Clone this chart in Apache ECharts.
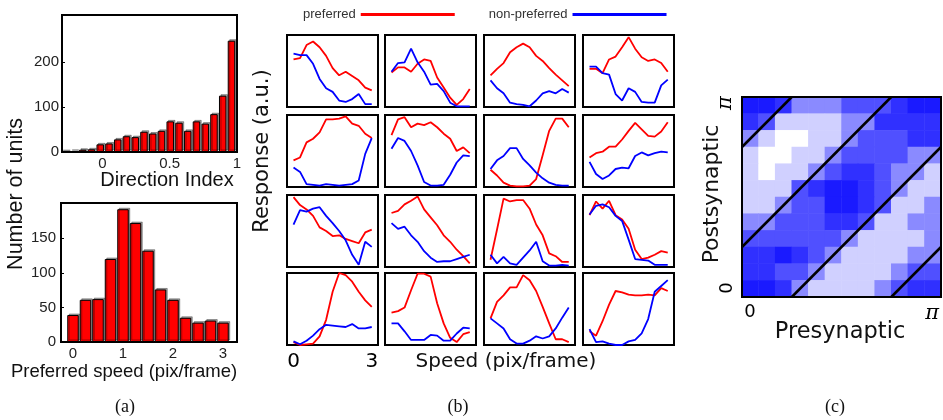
<!DOCTYPE html>
<html>
<head>
<meta charset="utf-8">
<script src="https://cdn.jsdelivr.net/npm/echarts@6/dist/echarts.min.js"></script>
<style>
  html, body { margin: 0; padding: 0; background: #fff; }
  #main { width: 943px; height: 420px; }
</style>
</head>
<body>
<div id="main"></div>
<script>
// (a) top: direction index histogram
var dirBins = [-0.276, -0.211, -0.146, -0.081, -0.016, 0.049, 0.114, 0.179, 0.244, 0.309,
  0.374, 0.439, 0.504, 0.569, 0.634, 0.699, 0.764, 0.829, 0.894, 0.959];
var dirCounts = [1, 2, 5, 6, 17, 19, 28, 35, 33, 45, 41, 47, 68, 65, 47, 68, 63, 84, 125, 247];
// (a) bottom: preferred speed histogram
var speedBins = [0, 0.25, 0.5, 0.75, 1, 1.25, 1.5, 1.75, 2, 2.25, 2.5, 2.75, 3];
var speedCounts = [39, 61, 62, 120, 192, 172, 132, 76, 61, 35, 28, 31, 28];

// (b) tuning curves, 16 units, row by row
var speeds = [0, 0.25, 0.5, 0.75, 1, 1.25, 1.5, 1.75, 2, 2.25, 2.5, 2.75, 3];
var prefResp = [
  [0.66, 0.68, 0.86, 0.91, 0.83, 0.71, 0.54, 0.44, 0.49, 0.43, 0.37, 0.27, 0.23],
  [0.48, 0.55, 0.55, 0.49, 0.60, 0.66, 0.64, 0.41, 0.27, 0.13, 0.03, 0.11, 0.25],
  [0.44, 0.53, 0.61, 0.76, 0.83, 0.88, 0.83, 0.71, 0.64, 0.54, 0.45, 0.37, 0.29],
  [0.53, 0.53, 0.47, 0.66, 0.70, 0.83, 0.97, 0.81, 0.69, 0.64, 0.66, 0.61, 0.49],
  [0.37, 0.41, 0.62, 0.67, 0.76, 0.94, 0.94, 0.95, 0.98, 0.88, 0.85, 0.74, 0.68],
  [0.72, 0.94, 0.97, 0.83, 0.88, 0.86, 0.90, 0.83, 0.74, 0.67, 0.50, 0.55, 0.47],
  [0.24, 0.16, 0.06, 0.02, 0.01, 0.01, 0.02, 0.11, 0.44, 0.78, 0.95, 0.95, 0.83],
  [0.41, 0.47, 0.49, 0.56, 0.56, 0.66, 0.78, 0.89, 0.80, 0.71, 0.70, 0.77, 0.90],
  [0.97, 0.86, 0.80, 0.71, 0.55, 0.50, 0.43, 0.44, 0.39, 0.36, 0.33, 0.48, 0.52],
  [0.75, 0.78, 0.87, 0.92, 0.98, 0.80, 0.69, 0.58, 0.44, 0.35, 0.24, 0.15, 0.05],
  [0.10, 0.52, 0.95, 0.91, 0.93, 0.93, 0.81, 0.59, 0.44, 0.19, 0.15, 0.07, 0.07],
  [0.72, 0.91, 0.81, 0.92, 0.72, 0.66, 0.53, 0.24, 0.11, 0.13, 0.17, 0.22, 0.20],
  [0.04, 0.00, 0.01, 0.02, 0.12, 0.35, 0.74, 1.00, 0.97, 0.88, 0.74, 0.62, 0.53],
  [0.45, 0.47, 0.52, 0.76, 0.99, 0.99, 0.95, 0.58, 0.30, 0.10, 0.04, 0.15, 0.18],
  [0.37, 0.60, 0.69, 0.80, 0.80, 0.97, 0.90, 0.75, 0.53, 0.30, 0.08, 0.08, 0.04],
  [0.19, 0.13, 0.33, 0.56, 0.75, 0.73, 0.70, 0.69, 0.69, 0.70, 0.69, 0.79, 0.75]
];
var nonprefResp = [
  [0.74, 0.72, 0.72, 0.60, 0.39, 0.26, 0.21, 0.09, 0.07, 0.11, 0.18, 0.04, 0.04],
  [0.49, 0.61, 0.62, 0.81, 0.62, 0.49, 0.31, 0.32, 0.22, 0.06, 0.01, 0.01, 0.01],
  [0.37, 0.26, 0.19, 0.06, 0.04, 0.03, 0.01, 0.09, 0.19, 0.22, 0.19, 0.25, 0.20],
  [0.56, 0.56, 0.47, 0.45, 0.18, 0.09, 0.26, 0.21, 0.07, 0.06, 0.06, 0.30, 0.38],
  [0.27, 0.21, 0.04, 0.03, 0.02, 0.04, 0.03, 0.02, 0.03, 0.04, 0.09, 0.46, 0.68],
  [0.53, 0.68, 0.64, 0.50, 0.30, 0.07, 0.02, 0.02, 0.03, 0.17, 0.34, 0.44, 0.43],
  [0.25, 0.37, 0.43, 0.54, 0.54, 0.39, 0.30, 0.20, 0.12, 0.06, 0.03, 0.02, 0.02],
  [0.35, 0.18, 0.11, 0.16, 0.25, 0.27, 0.26, 0.43, 0.48, 0.44, 0.47, 0.49, 0.48],
  [0.59, 0.79, 0.77, 0.81, 0.83, 0.71, 0.61, 0.50, 0.37, 0.17, 0.03, 0.35, 0.28],
  [0.61, 0.53, 0.56, 0.44, 0.35, 0.22, 0.13, 0.07, 0.08, 0.08, 0.11, 0.14, 0.17],
  [0.17, 0.05, 0.14, 0.05, 0.03, 0.13, 0.23, 0.35, 0.08, 0.02, 0.02, 0.03, 0.02],
  [0.73, 0.85, 0.87, 0.83, 0.71, 0.64, 0.38, 0.11, 0.10, 0.09, 0.03, 0.03, 0.03],
  [0.05, 0.01, 0.06, 0.13, 0.22, 0.28, 0.27, 0.26, 0.25, 0.29, 0.23, 0.23, 0.25],
  [0.30, 0.30, 0.19, 0.07, 0.07, 0.07, 0.14, 0.13, 0.06, 0.06, 0.16, 0.24, 0.23],
  [0.37, 0.30, 0.23, 0.08, 0.02, 0.02, 0.06, 0.12, 0.09, 0.12, 0.23, 0.38, 0.52],
  [0.22, 0.04, 0.05, 0.02, 0.00, 0.00, 0.05, 0.07, 0.16, 0.36, 0.74, 0.82, 0.90]
];

// (c) connection density, 12x12 cells, rows listed top (pi) to bottom (0)
var densityRows = [
  [5, 5, 4, 2, 2, 2, 3, 3, 3, 4, 5, 5],
  [4, 3, 1, 1, 1, 1, 2, 2, 4, 4, 4, 4],
  [2, 1, 0, 0, 1, 1, 2, 3, 3, 3, 4, 4],
  [1, 0, 0, 1, 1, 2, 3, 3, 3, 3, 2, 2],
  [1, 0, 1, 1, 2, 3, 4, 4, 3, 2, 2, 1],
  [1, 1, 1, 3, 4, 5, 5, 4, 3, 2, 1, 1],
  [1, 1, 2, 3, 3, 5, 5, 4, 3, 1, 1, 2],
  [2, 2, 3, 3, 3, 4, 4, 3, 1, 1, 2, 2],
  [3, 3, 3, 3, 3, 3, 2, 1, 1, 1, 1, 2],
  [4, 4, 5, 4, 3, 2, 1, 1, 1, 1, 2, 2],
  [4, 4, 3, 3, 2, 1, 1, 1, 1, 2, 3, 3],
  [5, 5, 4, 2, 1, 1, 1, 1, 2, 3, 4, 4]
];
var cellNames = ['0', '1', '2', '3', '4', '5', '6', '7', '8', '9', '10', '11'];
// diagonal boundaries, in units of pi
var diagLines = [
  [[0, 0.75], [0.25, 1]],
  [[0, 0.25], [0.75, 1]],
  [[0.25, 0], [1, 0.75]],
  [[0.75, 0], [1, 0.25]]
];

var fontA = '"Liberation Sans", Arial, sans-serif';
var fontB = '"DejaVu Sans", sans-serif';

var myChart = echarts.init(document.getElementById("main"), null, { renderer: "canvas" });

var grids = [];
var xAxes = [];
var yAxes = [];
var series = [];

var noLine = { show: false, onZero: false };
var tickIn = { show: true, inside: true, length: 3, lineStyle: { color: "#000" } };
var labA = { color: "#222", fontFamily: fontA, fontSize: 15 };

// (a) top histogram
grids.push({ left: 62, top: 15, width: 175, height: 137, show: true, borderColor: "#000", borderWidth: 2 });
xAxes.push({
  gridIndex: 0, type: "value", min: -0.3, max: 1,
  axisLine: noLine, splitLine: { show: false },
  axisTick: Object.assign({ customValues: [0, 0.5, 1] }, tickIn),
  axisLabel: Object.assign({ customValues: [0, 0.5, 1], margin: 4 }, labA),
});
yAxes.push({
  gridIndex: 0, type: "value", min: 0, max: 304,
  axisLine: noLine, splitLine: { show: false },
  axisTick: Object.assign({ customValues: [0, 100, 200] }, tickIn),
  axisLabel: Object.assign({ customValues: [0, 100, 200], margin: 3 }, labA),
});
var barStyle = {
  color: "#ff0000", borderColor: "#000", borderWidth: 1,
  shadowColor: "rgba(0,0,0,0.35)", shadowOffsetX: 1.5, shadowOffsetY: -1.5, shadowBlur: 0,
};
series.push({
  type: "bar", xAxisIndex: 0, yAxisIndex: 0, barWidth: 7.5,
  data: dirBins.map(function (b, i) { return [b, dirCounts[i]]; }),
  itemStyle: barStyle, silent: true,
});

// (a) bottom histogram
grids.push({ left: 61, top: 203, width: 176, height: 139, show: true, borderColor: "#000", borderWidth: 2 });
xAxes.push({
  gridIndex: 1, type: "value", min: -0.24, max: 3.28,
  axisLine: noLine, splitLine: { show: false },
  axisTick: Object.assign({ customValues: [0, 1, 2, 3] }, tickIn),
  axisLabel: Object.assign({ customValues: [0, 1, 2, 3], margin: 4 }, labA),
});
yAxes.push({
  gridIndex: 1, type: "value", min: 0, max: 201,
  axisLine: noLine, splitLine: { show: false },
  axisTick: Object.assign({ customValues: [0, 50, 100, 150] }, tickIn),
  axisLabel: Object.assign({ customValues: [0, 50, 100, 150], margin: 5 }, labA),
});
series.push({
  type: "bar", xAxisIndex: 1, yAxisIndex: 1, barWidth: 11.5,
  data: speedBins.map(function (b, i) { return [b, speedCounts[i]]; }),
  itemStyle: barStyle, silent: true,
});

// (b) 4x4 small panels
var boxLeft = [287, 385, 484, 583];
var boxTop = [35, 115, 195, 273];
for (var r = 0; r < 4; r++) {
  for (var c = 0; c < 4; c++) {
    var k = r * 4 + c;
    var gi = grids.length;
    grids.push({ left: boxLeft[c], top: boxTop[r], width: 91, height: 72, show: true, borderColor: "#000", borderWidth: 2 });
    var showX = (k === 12);
    xAxes.push({
      gridIndex: gi, type: "value", min: -0.25, max: 3.24,
      axisLine: noLine, splitLine: { show: false }, axisTick: { show: false },
      axisLabel: { show: showX, customValues: [0, 3], margin: 7, fontSize: 20, fontFamily: fontB, color: "#000" },
    });
    yAxes.push({
      gridIndex: gi, type: "value", min: 0, max: 1,
      axisLine: noLine, splitLine: { show: false }, axisTick: { show: false }, axisLabel: { show: false },
    });
    series.push({
      type: "line", name: "preferred", xAxisIndex: gi, yAxisIndex: gi,
      data: speeds.map(function (s, i) { return [s, prefResp[k][i]]; }),
      showSymbol: false, silent: true,
      lineStyle: { color: "#ff0000", width: 1.8 }, itemStyle: { color: "#ff0000" },
    });
    series.push({
      type: "line", name: "non-preferred", xAxisIndex: gi, yAxisIndex: gi,
      data: speeds.map(function (s, i) { return [s, nonprefResp[k][i]]; }),
      showSymbol: false, silent: true,
      lineStyle: { color: "#0000ff", width: 1.8 }, itemStyle: { color: "#0000ff" },
    });
  }
}

// (c) density + diagonals
var gc = grids.length;
grids.push({ left: 742, top: 97, width: 199, height: 200, show: false });
var piRich = { p: { fontFamily: '"DejaVu Serif", serif', fontStyle: "italic", fontSize: 21, color: "#000" } };
var piFmt = function (v) { return v < 0.5 ? "0" : "{p|\u03c0}"; };
var xc = xAxes.length;
xAxes.push({
  gridIndex: gc, type: "value", min: 0, max: 1,
  axisLine: noLine, splitLine: { show: false }, axisTick: { show: false },
  axisLabel: { customValues: [0.04, 0.955], formatter: piFmt, rich: piRich, margin: 6, fontSize: 18, fontFamily: fontB, color: "#000" },
});
xAxes.push({ gridIndex: gc, type: "category", data: cellNames, show: false });
var yc = yAxes.length;
yAxes.push({
  gridIndex: gc, type: "value", min: 0, max: 1,
  axisLine: noLine, splitLine: { show: false }, axisTick: { show: false },
  axisLabel: { customValues: [0.045, 0.97], rotate: 90, formatter: piFmt, rich: piRich, margin: 6, fontSize: 18, fontFamily: fontB, color: "#000" },
});
yAxes.push({ gridIndex: gc, type: "category", data: cellNames, show: false });

var heatData = [];
densityRows.forEach(function (row, ri) {
  row.forEach(function (v, ci) { heatData.push([ci, 11 - ri, v]); });
});
var heatIndex = series.length;
series.push({
  type: "heatmap", xAxisIndex: xc + 1, yAxisIndex: yc + 1,
  data: heatData, silent: true, itemStyle: { borderWidth: 0 },
});
diagLines.forEach(function (seg) {
  series.push({
    type: "line", xAxisIndex: xc, yAxisIndex: yc, data: seg,
    showSymbol: false, silent: true, z: 5,
    lineStyle: { color: "#000", width: 2.5 },
  });
});

function label(text, x, y, size, family, rot) {
  return {
    type: "text", x: x, y: y, rotation: rot || 0, z: 100,
    style: {
      text: text, fill: "#111", font: size + "px " + family,
      textAlign: "center", textVerticalAlign: "middle", align: "center", verticalAlign: "middle",
    },
  };
}

var option = {
  animation: false,
  backgroundColor: "#fff",
  grid: grids,
  xAxis: xAxes,
  yAxis: yAxes,
  visualMap: {
    show: false, seriesIndex: heatIndex, min: 0, max: 5, dimension: 2,
    inRange: { color: ["#ffffff", "#d0d0ff", "#8a8aff", "#5050ff", "#3030ff", "#1a1aff"] },
  },
  legend: {
    data: ["preferred", "non-preferred"],
    left: 298, top: 3, align: "right", icon: "rect",
    itemWidth: 94, itemHeight: 3, itemGap: 34,
    selectedMode: false,
    textStyle: { fontFamily: fontA, fontSize: 13, color: "#333" },
  },
  graphic: [
    label("Number of units", 16, 194, 21.5, fontA, Math.PI / 2),
    label("Direction Index", 167, 180, 20, fontA),
    label("Preferred speed (pix/frame)", 124, 372, 18.5, fontA),
    label("(a)", 125, 407, 18, '"Liberation Serif", serif'),
    label("Response (a.u.)", 263, 151, 21, fontB, Math.PI / 2),
    label("Speed (pix/frame)", 506, 362, 20, fontB),
    label("(b)", 458, 407, 18, '"Liberation Serif", serif'),
    label("Postsynaptic", 712, 194, 22, fontB, Math.PI / 2),
    label("Presynaptic", 840, 332, 22.5, fontB),
    label("(c)", 835, 407, 18, '"Liberation Serif", serif'),
    {
      type: "rect", z: 100,
      shape: { x: 742, y: 97, width: 199, height: 200 },
      style: { fill: "none", stroke: "#000", lineWidth: 2 },
    },
  ],
  series: series,
};
myChart.setOption(option, true);
</script>
</body>
</html>
